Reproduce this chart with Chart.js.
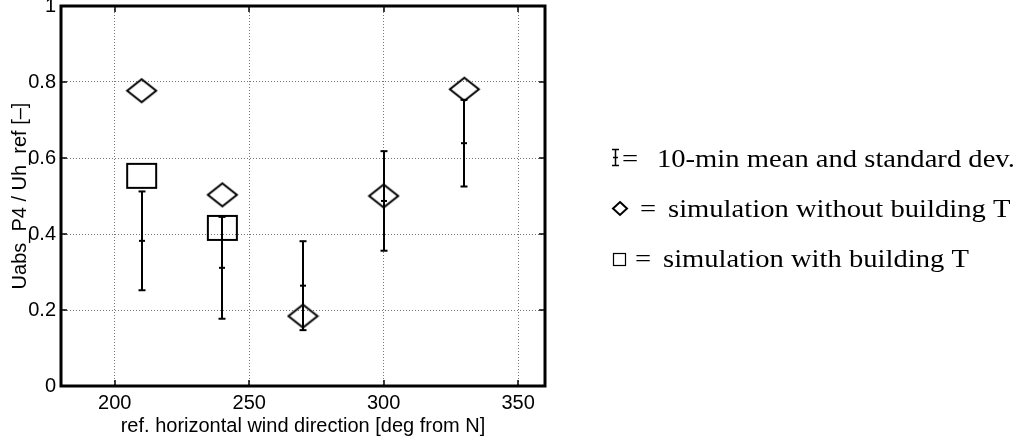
<!DOCTYPE html>
<html>
<head>
<meta charset="utf-8">
<script src="https://cdn.jsdelivr.net/npm/chart.js@4.4.1/dist/chart.umd.min.js"></script>
<style>
  html, body { margin: 0; padding: 0; background: #fff; }
  #wrap { width: 1024px; height: 441px; }
</style>
</head>
<body>
<div id="wrap"><canvas id="chart" width="1024" height="441"></canvas></div>
<script>
// values
const directions = [210, 240, 270, 300, 330];
const measuredMean = [0.382, 0.311, 0.264, 0.487, 0.639];
const measuredStd = [0.130, 0.134, 0.117, 0.131, 0.114];
const simWithoutT = [0.777, 0.503, 0.184, 0.500, 0.781];
const simWithDirections = [210, 240];
const simWithT = [0.553, 0.416];
const xTickValues = [200, 250, 300, 350];
const yTickValues = [0, 0.2, 0.4, 0.6, 0.8, 1];
const yTickLabels = ['0', '0.2', '0.4', '0.6', '0.8', '1'];
const legendLabels = ['10-min mean and standard dev.', 'simulation without building T', 'simulation with building T'];

const SANS = '"Liberation Sans", Arial, Helvetica, sans-serif';
const SERIF = '"Liberation Serif", "Times New Roman", serif';
Chart.defaults.font.family = SANS;
Chart.defaults.color = '#000';

// open markers, a bit wider than tall like in the original
function markerCanvas(kind, w, h) {
  const c = document.createElement('canvas');
  c.width = w + 4;
  c.height = h + 4;
  const ctx = c.getContext('2d');
  const cx = c.width / 2, cy = c.height / 2;
  ctx.strokeStyle = '#000';
  ctx.lineWidth = 2;
  ctx.beginPath();
  if (kind === 'diamond') {
    ctx.moveTo(cx, cy - h / 2);
    ctx.lineTo(cx + w / 2, cy);
    ctx.lineTo(cx, cy + h / 2);
    ctx.lineTo(cx - w / 2, cy);
    ctx.closePath();
  } else {
    ctx.rect(cx - w / 2, cy - h / 2, w, h);
  }
  ctx.stroke();
  return c;
}
const diamondImg = markerCanvas('diamond', 29, 23);
const squareImg = markerCanvas('square', 29, 24);

function line(ctx, x1, y1, x2, y2) {
  ctx.beginPath();
  ctx.moveTo(x1, y1);
  ctx.lineTo(x2, y2);
  ctx.stroke();
}

const extras = {
  id: 'extras',
  afterDatasetsDraw(chart) {
    const { ctx, chartArea: a, scales: { x, y } } = chart;
    ctx.save();
    ctx.strokeStyle = '#000';

    // error bars: mean +/- std
    ctx.lineWidth = 2;
    directions.forEach((d, i) => {
      const px = Math.round(x.getPixelForValue(d));
      const yTop = y.getPixelForValue(measuredMean[i] + measuredStd[i]);
      const yMid = y.getPixelForValue(measuredMean[i]);
      const yBot = y.getPixelForValue(measuredMean[i] - measuredStd[i]);
      line(ctx, px, yTop, px, yBot);
      line(ctx, px - 3.5, yTop, px + 3.5, yTop);
      line(ctx, px - 3.5, yBot, px + 3.5, yBot);
      line(ctx, px - 3, yMid, px + 3, yMid);
    });

    // inward tick marks on all sides
    ctx.lineWidth = 1.5;
    xTickValues.forEach(v => {
      const px = Math.round(x.getPixelForValue(v));
      line(ctx, px, a.bottom, px, a.bottom - 6);
      line(ctx, px, a.top, px, a.top + 6);
    });
    yTickValues.forEach(v => {
      const py = Math.round(y.getPixelForValue(v));
      line(ctx, a.left, py, a.left + 6, py);
      line(ctx, a.right, py, a.right - 6, py);
    });

    // axes box
    ctx.lineWidth = 3;
    ctx.strokeRect(a.left, a.top, a.right - a.left, a.bottom - a.top);
    ctx.restore();
  },
  afterDraw(chart) {
    const { ctx } = chart;
    const rows = [167, 217, 267];
    const eqX = [622, 640, 635];
    const textX = [657, 668, 663];
    ctx.save();
    ctx.strokeStyle = '#000';
    ctx.fillStyle = '#000';

    // symbols
    ctx.lineWidth = 1.5;
    line(ctx, 615.5, 149, 615.5, 166);
    line(ctx, 612, 149.5, 619, 149.5);
    line(ctx, 612, 165.5, 619, 165.5);
    line(ctx, 613, 157.5, 618, 157.5);

    ctx.lineWidth = 2;
    ctx.beginPath();
    ctx.moveTo(620, 202);
    ctx.lineTo(627, 208.5);
    ctx.lineTo(620, 215);
    ctx.lineTo(613, 208.5);
    ctx.closePath();
    ctx.stroke();

    ctx.lineWidth = 1.2;
    ctx.strokeRect(613.5, 253.5, 12, 12);

    // texts
    ctx.font = '26px ' + SERIF;
    ctx.textBaseline = 'alphabetic';
    rows.forEach((by, i) => {
      ctx.save();
      ctx.translate(eqX[i], by);
      ctx.scale(1.1, 1);
      ctx.fillText('=', 0, 0);
      ctx.restore();
      ctx.save();
      ctx.translate(textX[i], by);
      ctx.scale(1.1, 1);
      ctx.fillText(legendLabels[i], 0, 0);
      ctx.restore();
    });
    ctx.restore();
  }
};

const axisFont = { family: SANS, size: 20 };

new Chart(document.getElementById('chart'), {
  type: 'scatter',
  data: {
    datasets: [
      {
        label: 'simulation without building T',
        data: directions.map((d, i) => ({ x: d, y: simWithoutT[i] })),
        pointStyle: diamondImg,
      },
      {
        label: 'simulation with building T',
        data: simWithDirections.map((d, i) => ({ x: d, y: simWithT[i] })),
        pointStyle: squareImg,
      },
    ],
  },
  options: {
    responsive: false,
    animation: false,
    events: [],
    layout: { padding: { top: 6, right: 479, left: 0, bottom: 0 } },
    plugins: { legend: { display: false }, tooltip: { enabled: false } },
    scales: {
      x: {
        type: 'linear',
        min: 180,
        max: 360,
        afterBuildTicks: s => { s.ticks = xTickValues.map(v => ({ value: v })); },
        afterFit: s => { s.height = 55; s.paddingLeft = 0; s.paddingRight = 0; },
        grid: { color: '#777', lineWidth: 1, drawTicks: false },
        border: { display: false, dash: [1, 2] },
        ticks: { color: '#000', font: axisFont, padding: 5, maxRotation: 0 },
        title: {
          display: true,
          text: 'ref. horizontal wind direction [deg from N]',
          color: '#000',
          font: axisFont,
          padding: { top: 0, bottom: 3 },
        },
      },
      y: {
        type: 'linear',
        min: 0,
        max: 1,
        afterBuildTicks: s => { s.ticks = yTickValues.map(v => ({ value: v })); },
        afterFit: s => { s.width = 61; s.paddingTop = 0; s.paddingBottom = 0; },
        grid: { color: '#777', lineWidth: 1, drawTicks: false },
        border: { display: false, dash: [1, 2] },
        ticks: {
          color: '#000',
          font: axisFont,
          padding: 5,
          callback: (v, i) => yTickLabels[i],
        },
        title: {
          display: true,
          text: 'Uabs_P4 / Uh_ref [\u2013]',
          color: '#000',
          font: axisFont,
          padding: { top: 8, bottom: 0 },
        },
      },
    },
  },
  plugins: [extras],
});
</script>
</body>
</html>
